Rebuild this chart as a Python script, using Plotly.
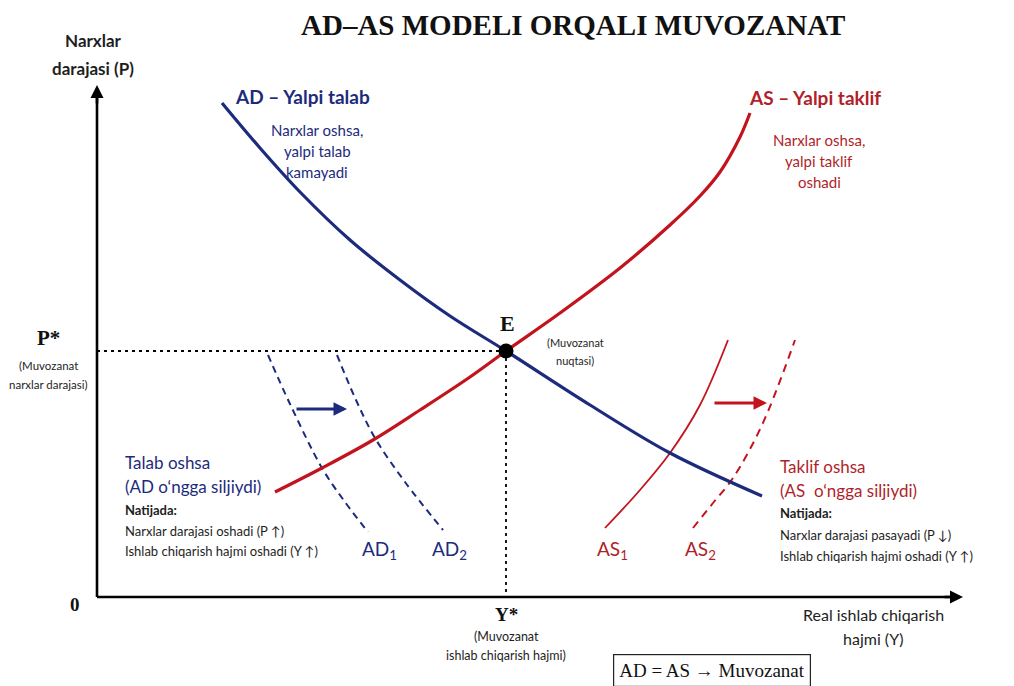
import plotly.graph_objects as go

# ---- data (model units: Y = real output, P = price level; origin at axes corner) ----
ad_y_out = [125, 163, 203, 253, 303, 353, 409, 493, 573, 665]
ad_p = [494, 449, 405, 357, 317, 281, 246, 192, 144, 101]

as_y_out = [178, 225, 276, 323, 373, 409, 463, 523, 573, 603, 623, 643, 653]
as_p = [105, 129, 157, 187, 220, 246, 284, 329, 372, 401, 425, 460, 484]

ad1_y_out = [171, 193, 225, 248, 271]
ad1_p = [242, 193, 129, 95, 65]
ad2_y_out = [240, 259, 278, 308, 346]
ad2_p = [242, 197, 159, 115, 67]

as1_y_out = [508, 543, 573, 603, 631]
as1_p = [69, 107, 144, 192, 257]
as2_y_out = [596, 616, 636, 665, 698]
as2_p = [69, 94, 119, 172, 257]

eq_y_out, eq_p = 409, 246
x_axis_end, y_axis_end = 866, 512

NAVY = "#1c2b7c"
RED = "#c3141e"
RED_T = "#b01f2b"
DARK = "#1e1e1e"
SANS = "Lato, 'Open Sans', sans-serif"
SERIF = "'Liberation Serif', 'DejaVu Serif', serif"

fig = go.Figure()

def curve(xs, ys, color, width, dash="solid"):
    fig.add_trace(go.Scatter(x=xs, y=ys, mode="lines", line=dict(color=color, width=width, dash=dash, shape="spline", smoothing=1.0), hoverinfo="skip", showlegend=False))

# axes lines
curve([0, 0], [0, y_axis_end - 6], "#000", 2.6)
curve([0, x_axis_end - 6], [0, 0], "#000", 2.6)

# dotted guides
curve([0, eq_y_out], [eq_p, eq_p], "#000", 1.8, "3px,4px")
curve([eq_y_out, eq_y_out], [eq_p, 0], "#000", 1.8, "3px,4px")

# shifted curves
curve(ad1_y_out, ad1_p, NAVY, 2, "7px,5px")
curve(ad2_y_out, ad2_p, NAVY, 2, "7px,5px")
curve(as1_y_out, as1_p, RED, 1.8)
curve(as2_y_out, as2_p, RED, 2, "8px,6px")

# main curves
curve(as_y_out, as_p, RED, 3.2)
curve(ad_y_out, ad_p, NAVY, 3.2)

# equilibrium point
fig.add_trace(go.Scatter(x=[eq_y_out], y=[eq_p], mode="markers", marker=dict(color="#000", size=15), hoverinfo="skip", showlegend=False))

ann = []

def arrow(x0, y0, x1, y1, color, width, size=1.0):
    ann.append(dict(x=x1, y=y1, ax=x0, ay=y0, xref="x", yref="y", axref="x", ayref="y",
                    showarrow=True, arrowhead=2, arrowsize=size, arrowwidth=width, arrowcolor=color, text=""))

arrow(0, y_axis_end - 20, 0, y_axis_end, "#000", 2.6, 1.0)
arrow(x_axis_end - 20, 0, x_axis_end, 0, "#000", 2.6, 1.0)
arrow(198, 188, 250, 188, NAVY, 3, 0.9)
arrow(616, 194, 670, 194, RED, 3, 0.9)

def txt(x, y, s, size, color, family=SANS, bold=False, xanchor="center"):
    if bold:
        s = "<b>" + s + "</b>"
    ann.append(dict(x=x, y=y, xref="x", yref="y", text=s, showarrow=False, xanchor=xanchor, yanchor="middle",
                    font=dict(size=size, color=color, family=family)))

txt(476, 572, "AD–AS MODELI ORQALI MUVOZANAT", 29, "#111", SERIF, bold=True)
txt(-4, 557, "Narxlar", 17, DARK, bold=True)
txt(-4, 529, "darajasi (P)", 17, DARK, bold=True)
txt(-22, -7, "0", 19, "#111", SERIF, bold=True)
txt(-49, 259, "P*", 21, "#111", SERIF, bold=True)
txt(-49, 232, "(Muvozanat", 11.5, DARK)
txt(-49, 213, "narxlar darajasi)", 11.5, DARK)
txt(410, 274, "E", 22, "#111", SERIF, bold=True)
txt(478, 255, "(Muvozanat", 11, DARK)
txt(478, 237, "nuqtasi)", 11, DARK)
txt(409, -17, "Y*", 19, "#111", SERIF, bold=True)
txt(409, -39, "(Muvozanat", 12.5, DARK)
txt(409, -58, "ishlab chiqarish hajmi)", 12.5, DARK)
txt(776, -17, "Real ishlab chiqarish", 16, DARK)
txt(776, -41, "hajmi (Y)", 16, DARK)

txt(136, 501, "AD – Yalpi talab", 19, NAVY, bold=True, xanchor="left")
txt(220, 467, "Narxlar oshsa,", 15, NAVY)
txt(220, 446, "yalpi talab", 15, NAVY)
txt(220, 425, "kamayadi", 15, NAVY)

txt(650, 500, "AS – Yalpi taklif", 19, RED_T, bold=True, xanchor="left")
txt(722, 457, "Narxlar oshsa,", 15, RED_T)
txt(722, 436, "yalpi taklif", 15, RED_T)
txt(722, 415, "oshadi", 15, RED_T)

txt(26, 135, "Talab oshsa", 17, NAVY, xanchor="left")
txt(26, 111, "(AD o‘ngga siljiydi)", 17, NAVY, xanchor="left")
txt(26, 87, "Natijada:", 13, DARK, bold=True, xanchor="left")
txt(26, 66, "Narxlar darajasi oshadi (P ↑)", 13, DARK, xanchor="left")
txt(26, 46, "Ishlab chiqarish hajmi oshadi (Y ↑)", 13, DARK, xanchor="left")

txt(681, 131, "Taklif oshsa", 17, RED_T, xanchor="left")
txt(681, 107, "(AS  o‘ngga siljiydi)", 17, RED_T, xanchor="left")
txt(681, 84, "Natijada:", 13, DARK, bold=True, xanchor="left")
txt(681, 62, "Narxlar darajasi pasayadi (P ↓)", 13, DARK, xanchor="left")
txt(681, 41, "Ishlab chiqarish hajmi oshadi (Y ↑)", 13, DARK, xanchor="left")

txt(282, 47, "AD<sub>1</sub>", 19, NAVY)
txt(352, 47, "AD<sub>2</sub>", 19, NAVY)
txt(515, 47, "AS<sub>1</sub>", 19, RED_T)
txt(603, 47, "AS<sub>2</sub>", 19, RED_T)

ann.append(dict(x=615, y=-73, xref="x", yref="y", text="AD = AS → Muvozanat", showarrow=False,
                xanchor="center", yanchor="middle", font=dict(size=19, color="#111", family=SERIF),
                bordercolor="#222", borderwidth=1.2, borderpad=5, bgcolor="white"))

fig.update_layout(
    width=1014, height=686, autosize=False,
    margin=dict(l=0, r=0, t=0, b=0),
    paper_bgcolor="white", plot_bgcolor="white",
    xaxis=dict(range=[-97, 917], visible=False, fixedrange=True),
    yaxis=dict(range=[-89, 597], visible=False, fixedrange=True),
    annotations=ann,
    showlegend=False,
)

fig.write_html("out.html", config={"displayModeBar": False}, post_script="document.body.style.margin='0';document.body.style.overflow='hidden';")
